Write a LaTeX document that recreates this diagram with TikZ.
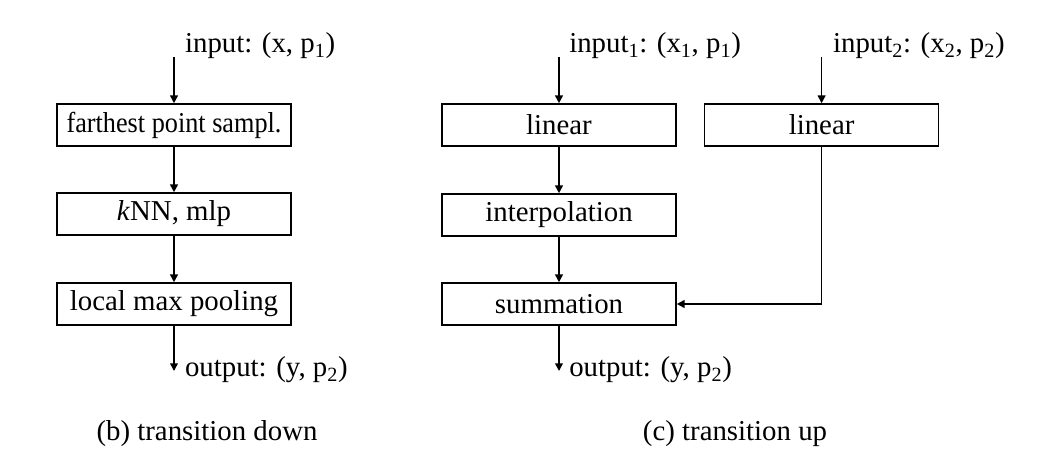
\documentclass[tikz,border=0pt]{standalone}
\usepackage{fontspec}
\setmainfont{Liberation Serif}
\usetikzlibrary{arrows.meta}
\tikzset{
  block/.style={draw, line width=1.1pt, minimum width=5.85cm, minimum height=1.05cm, inner sep=0pt},
  arr/.style={line width=1.1pt, -{Triangle[length=5.5pt,width=5.5pt]}},
  lbl/.style={anchor=base west, inner sep=0pt},
  caption/.style={anchor=base, inner sep=0pt}
}
\begin{document}
\begin{tikzpicture}[font=\fontsize{20.5}{24}\selectfont]
  \useasboundingbox (0,0) rectangle (26.075,11.725);

  % Transition down
  \coordinate (inD) at (4.35,10.3);
  \node [lbl] (inDtext) at (4.62,10.4) {input: (x, p\textsubscript{1})};
  \node [block] (fps) at (4.35,8.6) {\scalebox{0.91}[1]{farthest point sampl.}};
  \node [block] (knn) at (4.35,6.375) {\textit{k}NN, mlp};
  \node [block] (pool) at (4.35,4.125) {local max pooling};
  \coordinate (outD) at (4.35,2.45);
  \node [lbl] (outDtext) at (4.62,2.3) {output: (y, p\textsubscript{2})};
  \draw [arr] (inD) -- (fps);
  \draw [arr] (fps) -- (knn);
  \draw [arr] (knn) -- (pool);
  \draw [arr] (pool) -- (outD);

  % Transition up
  \coordinate (inUa) at (13.975,10.3);
  \node [lbl] (inUatext) at (14.225,10.4) {input\textsubscript{1}: (x\textsubscript{1}, p\textsubscript{1})};
  \coordinate (inUb) at (20.54,10.3);
  \node [lbl] (inUbtext) at (20.82,10.4) {input\textsubscript{2}: (x\textsubscript{2}, p\textsubscript{2})};
  \node [block] (linA) at (13.975,8.6) {linear};
  \node [block] (linB) at (20.54,8.6) {linear};
  \node [block] (interp) at (13.975,6.35) {interpolation};
  \node [block] (sum) at (13.975,4.125) {summation};
  \coordinate (outU) at (13.975,2.45);
  \node [lbl] (outUtext) at (14.225,2.3) {output: (y, p\textsubscript{2})};
  \draw [arr] (inUa) -- (linA);
  \draw [arr] (inUb) -- (linB);
  \draw [arr] (linA) -- (interp);
  \draw [arr] (interp) -- (sum);
  \draw [arr] (linB) |- (sum);
  \draw [arr] (sum) -- (outU);

  % Captions
  \node [caption] (capD) at (5.175,0.7) {(b) transition down};
  \node [caption] (capU) at (18.375,0.7) {(c) transition up};
\end{tikzpicture}
\end{document}
